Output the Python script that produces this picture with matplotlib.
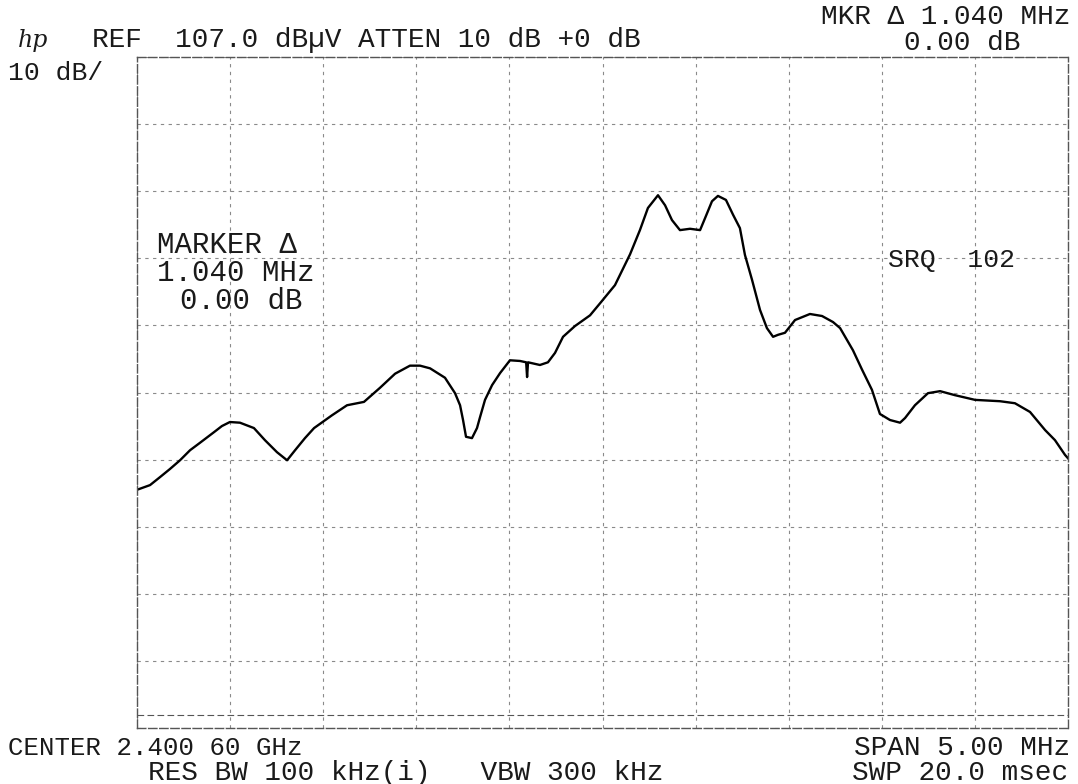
from matplotlib import pyplot as plt
import numpy as np

# trace: offset from center (MHz) and level (dBuV)
freq_mhz = [-2.500, -2.430, -2.376, -2.323, -2.269, -2.215, -2.162, -2.086, -2.044, -2.001,
            -1.947, -1.872, -1.813, -1.748, -1.694, -1.651, -1.598, -1.549, -1.453, -1.372,
            -1.281, -1.195, -1.114, -1.034, -0.980, -0.926, -0.846, -0.792, -0.765, -0.749,
            -0.733, -0.701, -0.674, -0.658, -0.631, -0.593, -0.550, -0.497, -0.443, -0.410,
            -0.405, -0.400, -0.336, -0.293, -0.255, -0.212, -0.148, -0.067, -0.013, 0.067,
            0.148, 0.201, 0.244, 0.298, 0.336, 0.373, 0.416, 0.470, 0.524, 0.551,
            0.588, 0.620, 0.663, 0.701, 0.738, 0.765, 0.803, 0.846, 0.883, 0.916,
            0.943, 0.980, 1.034, 1.114, 1.179, 1.238, 1.276, 1.345, 1.394, 1.447,
            1.490, 1.544, 1.598, 1.625, 1.678, 1.748, 1.813, 1.893, 2.001, 2.135,
            2.215, 2.296, 2.377, 2.430, 2.484, 2.500]
level_dbuv = [42.5, 43.2, 44.4, 45.6, 46.9, 48.4, 49.5, 51.1, 52.0, 52.6,
              52.5, 51.7, 49.9, 48.1, 46.9, 48.4, 50.2, 51.7, 53.6, 55.1,
              55.6, 57.7, 59.8, 61.0, 61.0, 60.6, 59.2, 56.9, 55.1, 52.9,
              50.4, 50.2, 51.7, 53.3, 55.9, 58.1, 59.9, 61.8, 61.7, 61.5,
              59.3, 61.5, 61.1, 61.5, 62.9, 65.3, 66.9, 68.5, 70.3, 73.0,
              77.6, 81.2, 84.5, 86.4, 84.9, 82.7, 81.2, 81.4, 81.2, 83.0,
              85.5, 86.3, 85.7, 83.5, 81.5, 77.5, 73.8, 69.3, 66.6, 65.3,
              65.6, 65.9, 67.8, 68.7, 68.4, 67.5, 66.6, 63.3, 60.4, 57.4,
              53.8, 52.9, 52.5, 53.2, 55.1, 56.9, 57.2, 56.6, 55.9, 55.7,
              55.4, 54.1, 51.4, 49.9, 47.7, 47.2]

ref_level = 107.0
db_per_div = 10
span_mhz = 5.0

font = 'Liberation Mono'
tc = '#1a1a1a'

fig = plt.figure(figsize=(10.78, 7.84), dpi=100)
ax = fig.add_axes([137/1078, 56/784, 931/1078, 671/784])

ax.set_xlim(-span_mhz/2, span_mhz/2)
ax.set_ylim(ref_level - 10*db_per_div, ref_level)
ax.set_xticks(np.linspace(-span_mhz/2, span_mhz/2, 11))
ax.set_yticks(np.arange(ref_level - 10*db_per_div, ref_level + 1, db_per_div))
ax.tick_params(length=0, labelbottom=False, labelleft=False)
ax.grid(True, color='#8a8a8a', linestyle=(0, (3, 4)), linewidth=0.8)
for s in ax.spines.values():
    s.set_color('#555555')
    s.set_linewidth(1.0)
    s.set_linestyle((0, (6, 2)))
ax.axhline(ref_level - 10*db_per_div + 2, color='#555555', lw=0.8, ls=(0, (6, 3)))

ax.plot(freq_mhz, level_dbuv, color='black', lw=1.7)

# annotation text like the plotter output
fig.text(18/1078, 1 - 40/784, 'hp', fontsize=17, style='italic', family='DejaVu Serif', va='center', color=tc)
fig.text(92/1078, 1 - 40/784, 'REF  107.0 dB\u00b5V ATTEN 10 dB +0 dB', fontsize=20, family=font, va='center', color=tc)
fig.text(8/1078, 1 - 73/784, '10 dB/', fontsize=19, family=font, va='center', color=tc)
fig.text(1070/1078, 1 - 17/784, 'MKR \u0394 1.040 MHz', fontsize=20, family=font, va='center', ha='right', color=tc)
fig.text(1020/1078, 1 - 43/784, '0.00 dB', fontsize=20, family=font, va='center', ha='right', color=tc)
fig.text(157/1078, 1 - 245/784, 'MARKER \u0394', fontsize=21, family=font, va='center', color=tc)
fig.text(157/1078, 1 - 273/784, '1.040 MHz', fontsize=21, family=font, va='center', color=tc)
fig.text(180/1078, 1 - 301/784, '0.00 dB', fontsize=21, family=font, va='center', color=tc)
fig.text(888/1078, 1 - 260/784, 'SRQ  102', fontsize=19, family=font, va='center', color=tc)
fig.text(8/1078, 1 - 748/784, 'CENTER 2.400 60 GHz', fontsize=18.5, family=font, va='center', color=tc)
fig.text(148/1078, 1 - 773/784, 'RES BW 100 kHz(i)   VBW 300 kHz', fontsize=20, family=font, va='center', color=tc)
fig.text(1070/1078, 1 - 748/784, 'SPAN 5.00 MHz', fontsize=20, family=font, va='center', ha='right', color=tc)
fig.text(1068/1078, 1 - 773/784, 'SWP 20.0 msec', fontsize=20, family=font, va='center', ha='right', color=tc)

fig.savefig('out.png', dpi=100)
